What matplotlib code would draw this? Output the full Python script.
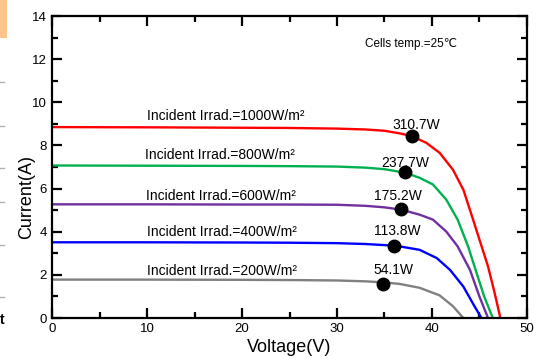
import matplotlib.pyplot as plt
from matplotlib.lines import Line2D
from matplotlib.patches import Rectangle
from matplotlib.ticker import MultipleLocator

plt.rcParams['font.family'] = ['Liberation Sans', 'DejaVu Sans']

# I-V curves (voltage in V, current in A)
irradiance = [1000, 800, 600, 400, 200]
v_1000 = [0, 10, 20, 25, 30, 33, 35, 36.6, 37.9, 39.4, 40.8, 42.2, 43.3, 44.1, 45.0, 45.9, 46.6, 47.2]
i_1000 = [8.85, 8.84, 8.82, 8.81, 8.78, 8.74, 8.68, 8.56, 8.43, 8.12, 7.66, 6.88, 5.95, 4.87, 3.63, 2.39, 1.15, 0.0]
v_800 = [0, 10, 20, 25, 30, 33, 35, 37.2, 38.7, 40.1, 41.5, 42.7, 43.8, 44.7, 45.5, 46.4]
i_800 = [7.07, 7.06, 7.05, 7.04, 7.02, 6.97, 6.90, 6.73, 6.50, 6.19, 5.49, 4.56, 3.32, 2.08, 0.99, 0.0]
v_600 = [0, 10, 20, 25, 30, 33, 35, 36.8, 38.7, 40.1, 41.5, 42.7, 44.0, 45.0, 45.9]
i_600 = [5.27, 5.27, 5.26, 5.26, 5.25, 5.20, 5.13, 5.02, 4.79, 4.56, 4.01, 3.32, 2.23, 0.99, 0.0]
v_400 = [0, 10, 20, 25, 30, 33, 35, 36.6, 38.7, 40.5, 41.9, 43.3, 44.3, 45.2]
i_400 = [3.51, 3.51, 3.50, 3.49, 3.47, 3.43, 3.38, 3.32, 3.16, 2.78, 2.23, 1.46, 0.68, 0.0]
v_200 = [0, 10, 20, 25, 30, 33, 35, 36.6, 38.7, 40.8, 42.2, 43.3]
i_200 = [1.78, 1.78, 1.77, 1.76, 1.74, 1.70, 1.65, 1.58, 1.40, 1.05, 0.55, 0.0]

# maximum power points
mpp_v = [37.9, 37.2, 36.7, 36.0, 34.8]
mpp_i = [8.43, 6.76, 5.04, 3.32, 1.57]
mpp_label = ['310.7W', '237.7W', '175.2W', '113.8W', '54.1W']

curves_v = [v_1000, v_800, v_600, v_400, v_200]
curves_i = [i_1000, i_800, i_600, i_400, i_200]
colors = ['#ff0000', '#00b050', '#7030a0', '#0000ff', '#808080']

# text placement (layout only)
irr_text_pos = [(10.0, 9.16), (9.8, 7.35), (9.9, 5.49), (10.0, 3.78), (10.0, 2.0)]
pw_text_pos = [(38.3, 8.74), (37.2, 7.0), (36.4, 5.46), (36.3, 3.86), (35.9, 2.05)]

fig = plt.figure(figsize=(5.43, 3.58), dpi=100)
ax = fig.add_axes([0.0958, 0.1117, 0.8747, 0.8436])

for k in range(len(irradiance)):
    ax.plot(curves_v[k], curves_i[k], c=colors[k], lw=1.7, solid_joinstyle='round')
    ax.text(irr_text_pos[k][0], irr_text_pos[k][1],
            'Incident Irrad.=' + str(irradiance[k]) + 'W/m²', fontsize=10)
    ax.text(pw_text_pos[k][0], pw_text_pos[k][1], mpp_label[k], fontsize=10, ha='center')

ax.plot(mpp_v, mpp_i, ls='', marker='o', ms=9, c='black', zorder=5)

ax.text(32.9, 12.54, 'Cells temp.=25℃', fontsize=8.5)

ax.set(xlim=(0, 50), ylim=(0, 14))
ax.xaxis.set_major_locator(MultipleLocator(10))
ax.xaxis.set_minor_locator(MultipleLocator(5))
ax.yaxis.set_major_locator(MultipleLocator(2))
ax.yaxis.set_minor_locator(MultipleLocator(1))
ax.tick_params(which='both', direction='in', top=True, right=True, width=1.6, labelsize=9.5)
ax.tick_params(which='major', length=7)
ax.tick_params(which='minor', length=4)
for s in ax.spines.values():
    s.set_linewidth(1.6)
ax.set_xlabel('Voltage(V)', fontsize=13, labelpad=3)
ax.set_ylabel('Current(A)', fontsize=13, labelpad=-2, y=0.4)

# bits of the surrounding page left in the screenshot
fig.add_artist(Rectangle((0, 1 - 38 / 358), 7 / 543, 38 / 358, transform=fig.transFigure,
                         color='#fbc48a', lw=0))
for y in [82, 126, 168, 202, 245, 297]:
    fig.add_artist(Line2D([0, 4 / 543], [1 - y / 358] * 2, transform=fig.transFigure,
                          c='#b0b0b0', lw=1))
fig.text(0, 1 - 320 / 358, 't', fontsize=10, fontweight='bold', va='center')

plt.savefig('out.png', dpi=100)
